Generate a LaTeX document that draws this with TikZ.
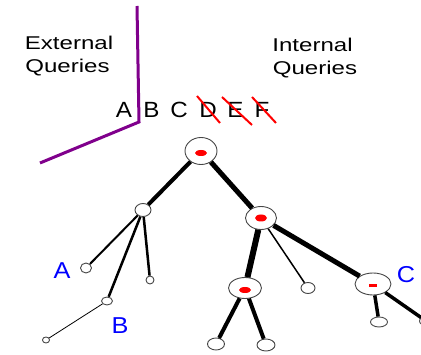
\documentclass[tikz,border=0pt]{standalone}
\usepackage{fontspec}
\usepackage{graphicx}
\setmainfont{Liberation Sans}
\usetikzlibrary{shapes.geometric}
\definecolor{qpurple}{RGB}{128,0,140}
\definecolor{qblue}{RGB}{0,0,255}
\definecolor{qred}{RGB}{255,0,0}
\definecolor{qgray}{RGB}{70,70,70}
\tikzset{
  tnode/.style={ellipse,draw=qgray,line width=0.9pt,fill=white,inner sep=0pt},
  blob/.style={ellipse,fill=qred,inner sep=0pt},
  qtext/.style={font=\fontsize{18.5}{22}\selectfont,anchor=base,inner sep=0pt},
  letter/.style={font=\fontsize{22}{26}\selectfont,anchor=base,inner sep=0pt},
  blabel/.style={font=\fontsize{23}{26}\selectfont,text=qblue,inner sep=0pt},
  strike/.style={draw=qred,line width=2pt},
  edge/.style={draw=black}
}
\begin{document}
\begin{tikzpicture}[x=1pt,y=-1pt]
\useasboundingbox (0,0) rectangle (421,355);
\clip (0,0) rectangle (421,355);
% purple divider
\coordinate (p1) at (137,6);
\coordinate (p2) at (139,122);
\coordinate (p3) at (40,163);
\draw[qpurple,line width=3pt] (p1) -- (p2) -- (p3);
% headings
\node[qtext] (ext1) at (69,50) {\scalebox{1.3}[1]{External}};
\node[qtext] (ext2) at (67.5,73) {\scalebox{1.3}[1]{Queries}};
\node[qtext] (int1) at (312.5,52) {\scalebox{1.3}[1]{Internal}};
\node[qtext] (int2) at (315,75) {\scalebox{1.3}[1]{Queries}};
% letters
\node[letter] (lA) at (124,118) {\scalebox{1.1}[1]{A}};
\node[letter] (lB) at (151.5,118) {\scalebox{1.1}[1]{B}};
\node[letter] (lC) at (179,118) {\scalebox{1.1}[1]{C}};
\node[letter] (lD) at (208,118) {\scalebox{1.1}[1]{D}};
\node[letter] (lE) at (235.5,118) {\scalebox{1.1}[1]{E}};
\node[letter] (lF) at (262,118) {\scalebox{1.1}[1]{F}};
\coordinate (sD1) at (197,96);  \coordinate (sD2) at (220,123);
\coordinate (sE1) at (222,97);  \coordinate (sE2) at (252,125);
\coordinate (sF1) at (252,97);  \coordinate (sF2) at (276,123);
\draw[strike] (sD1) -- (sD2);
\draw[strike] (sE1) -- (sE2);
\draw[strike] (sF1) -- (sF2);
% tree nodes
\node[tnode,minimum width=32pt,minimum height=27pt] (root) at (201,151) {};
\node[tnode,minimum width=16pt,minimum height=13pt] (L1) at (143,210) {};
\node[tnode,minimum width=31pt,minimum height=23pt] (R1) at (261,218) {};
\node[tnode,minimum width=11pt,minimum height=10pt] (LA) at (86,268) {};
\node[tnode,minimum width=8pt,minimum height=8pt] (LM) at (150,280) {};
\node[tnode,minimum width=11pt,minimum height=8pt] (LB) at (107,301) {};
\node[tnode,minimum width=7pt,minimum height=6pt] (LBl) at (46,340) {};
\node[tnode,minimum width=33pt,minimum height=21pt] (Ra) at (245,288) {};
\node[tnode,minimum width=14pt,minimum height=11pt] (Rb) at (308,288) {};
\node[tnode,minimum width=36pt,minimum height=22pt] (Rc) at (373,284) {};
\node[tnode,minimum width=17pt,minimum height=12pt] (Ra1) at (216,344) {};
\node[tnode,minimum width=18pt,minimum height=12pt] (Ra2) at (266,345) {};
\node[tnode,minimum width=17pt,minimum height=10pt] (Rc1) at (379,322) {};
\node[tnode,minimum width=13pt,minimum height=9pt] (Rc2) at (426,321) {};
% red marks
\node[blob,minimum width=12pt,minimum height=6pt] (bR) at (201,153) {};
\node[blob,minimum width=12pt,minimum height=7pt] (b1) at (261,218) {};
\node[blob,minimum width=12pt,minimum height=6pt] (b2) at (245,290) {};
\node[fill=qred,inner sep=0pt,minimum width=8pt,minimum height=3pt] (b3) at (373,286) {};
% edges
\draw[edge,line width=4pt] (root) -- (L1);
\draw[edge,line width=5pt] (root) -- (R1);
\draw[edge,line width=2pt] (L1) -- (LA);
\draw[edge,line width=2.5pt] (L1) -- (LB);
\draw[edge,line width=2.5pt] (L1) -- (LM);
\draw[edge,line width=0.8pt] (LB) -- (LBl);
\draw[edge,line width=6pt] (R1) -- (Ra);
\draw[edge,line width=1.5pt] (R1) -- (Rb);
\draw[edge,line width=5pt] (R1) -- (Rc);
\draw[edge,line width=4pt] (Ra) -- (Ra1);
\draw[edge,line width=4pt] (Ra) -- (Ra2);
\draw[edge,line width=3.5pt] (Rc) -- (Rc1);
\draw[edge,line width=3.5pt] (Rc) -- (Rc2);
% blue labels
\node[blabel] (labA) at (62,271) {\scalebox{1.1}[1]{A}};
\node[blabel] (labB) at (120,326) {\scalebox{1.1}[1]{B}};
\node[blabel] (labC) at (406,275) {\scalebox{1.1}[1]{C}};
\end{tikzpicture}
\end{document}
